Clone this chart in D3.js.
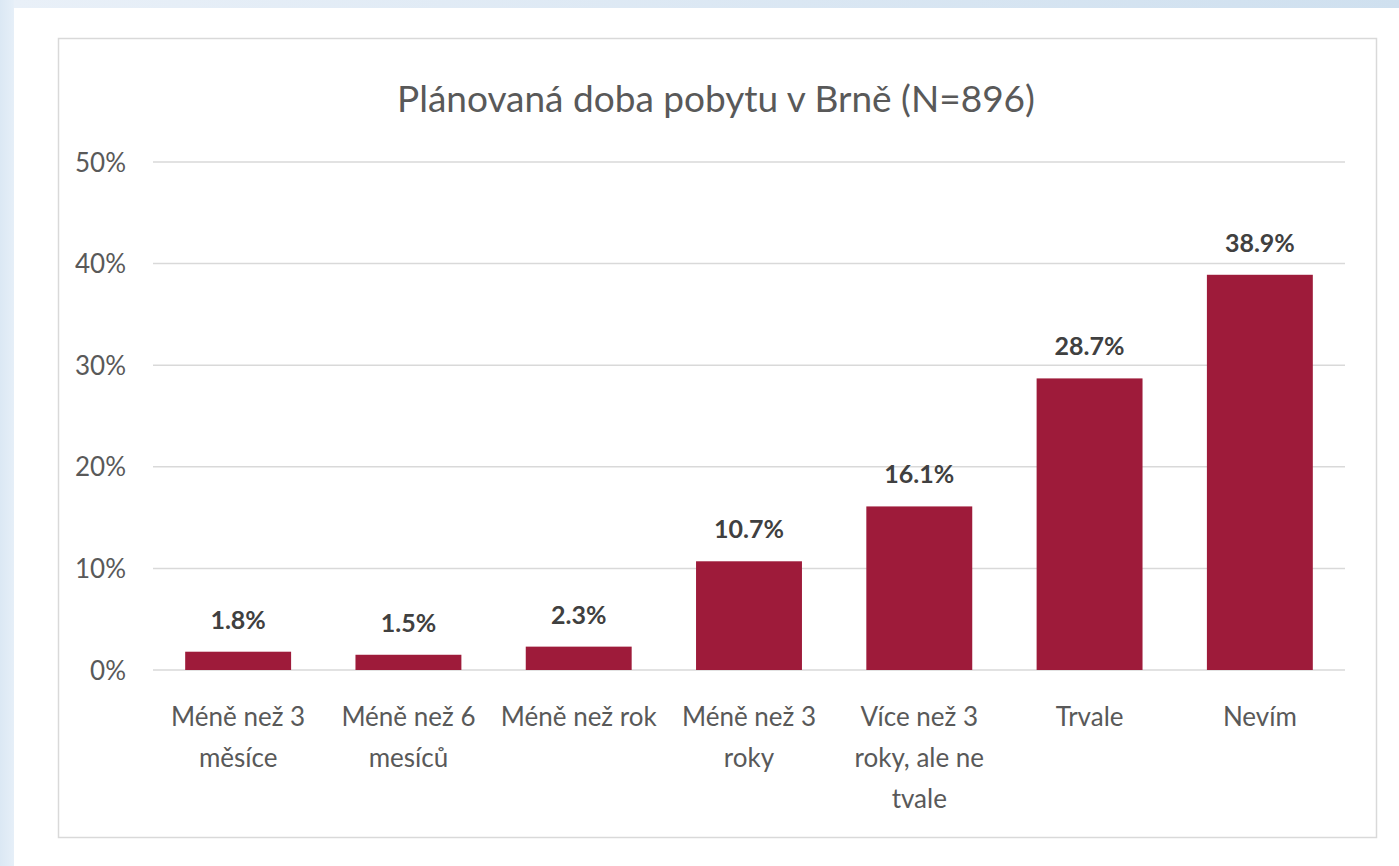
<!DOCTYPE html>
<html><head><meta charset="utf-8">
<script src="https://cdn.jsdelivr.net/npm/d3@7"></script>
<style>
html,body{margin:0;padding:0;}
body{width:1399px;height:866px;overflow:hidden;background:linear-gradient(90deg,#dbe8f4 0px,#e6eff8 14px,#e6eff8 100%);}
</style></head><body>
<svg id="c" width="1399" height="866"></svg>
<script>
const title = "Plánovaná doba pobytu v Brně (N=896)";
const categories = ["Méně než 3 měsíce","Méně než 6 mesíců","Méně než rok","Méně než 3 roky","Více než 3 roky, ale ne tvale","Trvale","Nevím"];
const values = [1.8, 1.5, 2.3, 10.7, 16.1, 28.7, 38.9];
const yTicks = [0, 10, 20, 30, 40, 50];

const svg = d3.select("#c");
const font = "Lato, 'Open Sans', sans-serif";
const defs = svg.append("defs");
const tg = defs.append("linearGradient").attr("id","topg");
tg.append("stop").attr("offset","0").attr("stop-color","#e9f0f8");
tg.append("stop").attr("offset","1").attr("stop-color","#cfe0ef");
svg.append("rect").attr("x",14).attr("y",8).attr("width",1385).attr("height",858).attr("fill","#fff");
svg.append("rect").attr("x",14).attr("y",0).attr("width",1385).attr("height",8).attr("fill","url(#topg)");
// chart border
svg.append("rect").attr("x",58.5).attr("y",38.5).attr("width",1318).attr("height",799)
  .attr("fill","#fff").attr("stroke","#d9d9d9").attr("stroke-width",1.5);

const x = d3.scaleBand().domain(categories).range([153,1345]).paddingInner(0.378).paddingOuter(0.189);
const y = d3.scaleLinear().domain([0,50]).range([670,162]);

svg.append("text").attr("x",716).attr("y",112).attr("text-anchor","middle")
  .attr("font-family",font).attr("font-size",37).attr("fill","#595959").text(title);

// gridlines
svg.append("g").selectAll("line").data(yTicks).join("line")
  .attr("x1",153).attr("x2",1345).attr("y1",d=>y(d)).attr("y2",d=>y(d))
  .attr("stroke","#d9d9d9").attr("stroke-width",1.5);

// y axis labels
const yAxis = d3.axisLeft(y).tickValues(yTicks).tickFormat(d=>d+"%").tickSize(0).tickPadding(0);
const gy = svg.append("g").attr("transform","translate(126,0)").call(yAxis);
gy.select(".domain").remove();
gy.selectAll("text").attr("font-family",font).attr("font-size",26).attr("fill","#595959").attr("dy","0.35em");

// bars
svg.append("g").selectAll("rect").data(values).join("rect")
  .attr("x",(d,i)=>x(categories[i])).attr("width",x.bandwidth())
  .attr("y",d=>y(d)).attr("height",d=>y(0)-y(d)).attr("fill","#9e1b3a");

// value labels
svg.append("g").selectAll("text").data(values).join("text")
  .attr("x",(d,i)=>x(categories[i])+x.bandwidth()/2).attr("y",d=>y(d)-23)
  .attr("text-anchor","middle").attr("font-family",font).attr("font-weight","bold")
  .attr("font-size",25).attr("fill","#404040").text(d=>d.toFixed(1)+"%");

// x axis labels with wrapping
const xAxis = d3.axisBottom(x).tickSize(0).tickPadding(0);
const gx = svg.append("g").attr("transform","translate(0,670)").call(xAxis);
gx.select(".domain").remove();
gx.selectAll("text").attr("font-family",font).attr("font-size",26).attr("fill","#595959").attr("dy",0)
  .each(function(d){
    const t = d3.select(this); t.text(null);
    const words = d.split(" "); const lines=[]; let cur=[];
    const tmp = t.append("tspan");
    words.forEach(w=>{
      const test = cur.concat([w]).join(" ");
      tmp.text(test);
      if (tmp.node().getComputedTextLength() > 172 && cur.length){ lines.push(cur.join(" ")); cur=[w]; }
      else cur.push(w);
    });
    lines.push(cur.join(" ")); tmp.remove();
    lines.forEach((l,i)=>t.append("tspan").attr("x",0).attr("y",56+i*41).text(l));
  });
</script>
</body></html>
